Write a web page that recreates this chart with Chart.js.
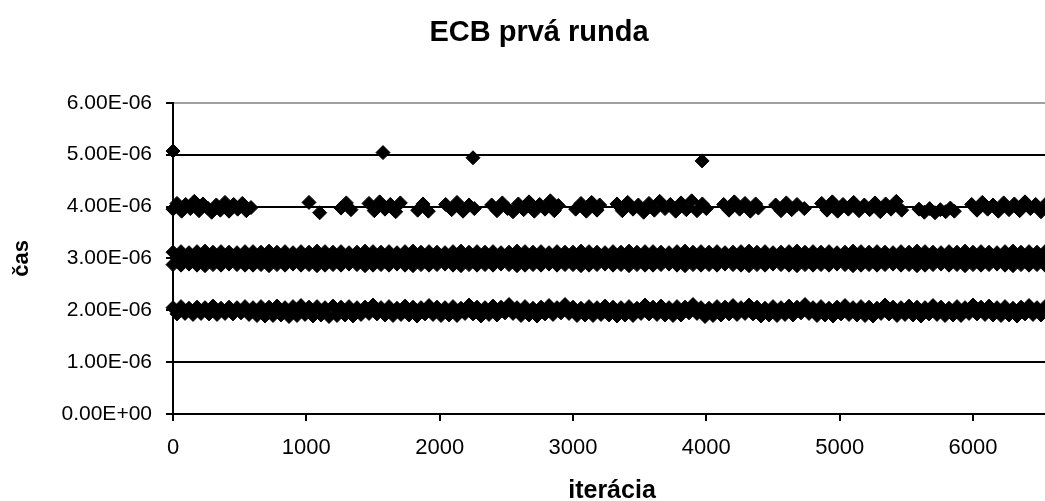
<!DOCTYPE html>
<html>
<head>
<meta charset="utf-8">
<script src="https://cdn.jsdelivr.net/npm/chart.js@4.4.1/dist/chart.umd.min.js"></script>
<style>
  html, body { margin: 0; padding: 0; overflow: hidden; background: #fff; }
</style>
</head>
<body>
<canvas id="myChart" width="1078" height="501"></canvas>
<script>
// times are in microseconds, the axis labels show them in seconds
const yTicks = [0, 1, 2, 3, 4, 5, 6];
const xTicks = [0, 1000, 2000, 3000, 4000, 5000, 6000];

const iterA = [0,60,120,180,240,300,360,420,480,540,
  600,660,720,780,840,900,960,1020,1080,1140,
  1200,1260,1320,1380,1440,1500,1560,1620,1680,1740,
  1800,1860,1920,1980,2040,2100,2160,2220,2280,2340,
  2400,2460,2520,2580,2640,2700,2760,2820,2880,2940,
  3000,3060,3120,3180,3240,3300,3360,3420,3480,3540,
  3600,3660,3720,3780,3840,3900,3960,4020,4080,4140,
  4200,4260,4320,4380,4440,4500,4560,4620,4680,4740,
  4800,4860,4920,4980,5040,5100,5160,5220,5280,5340,
  5400,5460,5520,5580,5640,5700,5760,5820,5880,5940,
  6000,6060,6120,6180,6240,6300,6360,6420,6480,6540];
const iterB = [30,90,150,210,270,330,390,450,510,570,
  630,690,750,810,870,930,990,1050,1110,1170,
  1230,1290,1350,1410,1470,1530,1590,1650,1710,1770,
  1830,1890,1950,2010,2070,2130,2190,2250,2310,2370,
  2430,2490,2550,2610,2670,2730,2790,2850,2910,2970,
  3030,3090,3150,3210,3270,3330,3390,3450,3510,3570,
  3630,3690,3750,3810,3870,3930,3990,4050,4110,4170,
  4230,4290,4350,4410,4470,4530,4590,4650,4710,4770,
  4830,4890,4950,5010,5070,5130,5190,5250,5310,5370,
  5430,5490,5550,5610,5670,5730,5790,5850,5910,5970,
  6030,6090,6150,6210,6270,6330,6390,6450,6510,6570];

// 3 µs band (on iterA, iterB, iterA)
const t3Upper = [3.12,3.13,3.11,3.13,3.14,3.12,3.13,3.12,3.11,3.13,
  3.13,3.12,3.14,3.12,3.13,3.11,3.13,3.12,3.14,3.13,
  3.12,3.13,3.11,3.12,3.14,3.13,3.12,3.13,3.11,3.13,
  3.14,3.12,3.13,3.12,3.11,3.13,3.14,3.12,3.13,3.12,
  3.13,3.11,3.12,3.14,3.13,3.12,3.13,3.11,3.13,3.12,
  3.12,3.14,3.13,3.12,3.11,3.13,3.12,3.14,3.12,3.13,
  3.13,3.12,3.11,3.13,3.14,3.12,3.13,3.12,3.13,3.11,
  3.12,3.13,3.14,3.12,3.13,3.11,3.12,3.13,3.14,3.12,
  3.13,3.12,3.13,3.11,3.12,3.14,3.13,3.12,3.13,3.12,
  3.11,3.13,3.12,3.14,3.13,3.12,3.11,3.13,3.12,3.14,
  3.12,3.13,3.12,3.11,3.13,3.14,3.12,3.13,3.12,3.13];
const t3Mid = [3.00,2.98,3.02,3.01,2.99,3.03,2.98,3.00,3.02,2.99,
  3.01,3.00,2.98,3.02,3.00,2.99,3.03,3.01,2.98,3.00,
  2.99,3.02,3.00,2.98,3.01,3.03,2.99,3.00,3.02,2.98,
  3.00,3.01,2.99,3.03,3.00,2.98,3.02,3.01,2.99,3.00,
  3.02,2.98,3.00,3.01,2.99,3.03,3.00,2.98,3.02,3.01,
  2.99,3.00,3.02,2.98,3.01,3.00,2.99,3.03,3.00,2.98,
  3.01,3.02,2.99,3.00,2.98,3.03,3.01,2.99,3.00,3.02,
  2.98,3.00,3.01,2.99,3.03,3.00,2.98,3.02,3.01,2.99,
  3.00,3.02,2.98,3.01,3.00,2.99,3.03,3.00,2.98,3.02,
  3.01,2.99,3.00,3.02,2.98,3.01,3.00,2.99,3.03,3.00,
  2.98,3.02,3.01,2.99,3.00,3.02,2.98,3.01,3.00,2.99];
const t3Lower = [2.88,2.87,2.89,2.87,2.86,2.88,2.87,2.89,2.88,2.87,
  2.87,2.88,2.86,2.88,2.87,2.89,2.87,2.88,2.86,2.87,
  2.88,2.87,2.89,2.88,2.86,2.87,2.88,2.87,2.89,2.87,
  2.86,2.88,2.87,2.88,2.89,2.87,2.86,2.88,2.87,2.88,
  2.87,2.89,2.88,2.86,2.87,2.88,2.87,2.89,2.87,2.88,
  2.88,2.86,2.87,2.88,2.89,2.87,2.88,2.86,2.88,2.87,
  2.87,2.88,2.89,2.87,2.86,2.88,2.87,2.88,2.87,2.89,
  2.88,2.87,2.86,2.88,2.87,2.89,2.88,2.87,2.86,2.88,
  2.87,2.88,2.87,2.89,2.88,2.86,2.87,2.88,2.87,2.88,
  2.89,2.87,2.88,2.86,2.87,2.88,2.89,2.87,2.88,2.86,
  2.88,2.87,2.88,2.89,2.87,2.86,2.88,2.87,2.88,2.87];

// 2 µs band (upper on iterA, lower on iterB)
const t2Upper = [2.05,2.07,2.04,2.06,2.05,2.08,2.04,2.06,2.05,2.07,2.05,
  2.07,2.06,2.08,2.05,2.07,2.09,2.06,2.07,2.05,2.08,2.06,2.07,2.05,
  2.06,2.10,2.05,2.07,2.04,2.08,2.06,2.05,2.09,2.06,
  2.05,2.07,2.04,2.10,2.06,2.05,2.08,2.06,2.11,2.05,
  2.07,2.04,2.06,2.09,2.05,2.11,2.06,2.04,2.07,2.05,
  2.08,2.06,2.05,2.07,2.04,2.10,2.06,2.08,2.05,2.07,
  2.06,2.11,2.05,2.04,2.07,2.06,2.09,2.05,2.10,2.06,
  2.04,2.07,2.05,2.08,2.06,2.11,2.05,2.07,2.04,2.06,
  2.09,2.05,2.07,2.06,2.04,2.10,2.06,2.05,2.08,2.06,
  2.05,2.09,2.06,2.04,2.07,2.05,2.10,2.06,2.08,2.05,
  2.07,2.04,2.06,2.09,2.05,2.07];
const t2Lower = [1.93,1.94,1.92,1.94,1.93,1.92,1.94,1.93,1.95,1.92,1.90,
  1.89,1.90,1.91,1.88,1.90,1.92,1.89,1.91,1.88,1.90,1.91,1.89,1.92,
  1.94,1.93,1.91,1.90,1.92,1.91,1.89,1.93,1.92,1.90,
  1.91,1.90,1.94,1.93,1.89,1.92,1.91,1.95,1.94,1.90,
  1.91,1.89,1.93,1.92,1.95,1.94,1.90,1.91,1.90,1.92,
  1.91,1.89,1.91,1.90,1.94,1.93,1.92,1.91,1.90,1.91,
  1.95,1.94,1.88,1.90,1.91,1.93,1.92,1.94,1.93,1.89,
  1.91,1.90,1.92,1.91,1.95,1.94,1.90,1.91,1.89,1.93,
  1.92,1.91,1.90,1.89,1.94,1.93,1.90,1.92,1.91,1.89,
  1.93,1.92,1.90,1.91,1.90,1.94,1.93,1.92,1.91,1.90,
  1.91,1.89,1.93,1.92,1.91,1.90];

// 4 µs band, with its gaps
const iter4 = [0,30,65,95,130,160,195,225,260,290,325,355,390,420,455,485,520,550,585,
  1020,1100,1260,1300,1335,
  1470,1510,1550,1590,1630,1670,1705,
  1835,1875,1915,
  2045,2090,2130,2175,2220,2260,
  2390,2430,2470,2510,2550,2590,2630,2670,2710,2750,2790,2830,2860,2890,
  3020,3060,3100,3140,3180,3200,
  3330,3370,3410,3450,3490,3530,3570,3610,3650,3690,3730,3770,3810,3850,3890,3930,3970,4000,
  4130,4170,4210,4250,4290,4330,4370,4390,
  4520,4560,4600,4640,4680,4735,
  4865,4905,4945,4985,5025,5065,5105,5145,5185,5225,5265,5305,5345,5385,5425,5465,
  5595,5635,5675,5715,5755,5795,5830,5860,
  5990,6030,6070,6110,6150,6190,6230,6270,6310,6350,6390,6430,6470,6510,6550,6580];
const t4 = [3.95,4.06,3.91,4.04,3.96,4.10,3.92,4.05,3.97,3.89,4.03,3.93,4.08,3.91,4.04,3.95,4.06,3.92,3.98,
  4.08,3.88,3.97,4.07,3.94,
  4.06,3.92,4.09,3.95,4.04,3.90,4.07,
  3.93,4.05,3.91,
  4.04,3.94,4.08,3.91,4.03,3.96,
  4.03,3.92,4.07,3.96,3.90,4.05,3.94,4.09,3.91,4.04,3.95,4.11,3.92,4.02,
  3.95,4.06,3.91,4.08,3.93,4.03,
  4.05,3.92,4.08,3.95,4.03,3.89,4.06,3.93,4.10,3.96,4.04,3.91,4.07,3.94,4.11,3.92,4.05,3.96,
  4.04,3.93,4.09,3.95,4.06,3.91,4.05,3.97,
  4.03,3.92,4.07,3.94,4.04,3.96,
  4.06,3.93,4.09,3.91,4.04,3.95,4.08,3.92,4.03,3.94,4.07,3.90,4.05,3.95,4.10,3.93,
  3.95,3.89,3.96,3.88,3.94,3.90,3.97,3.91,
  4.04,3.93,4.08,3.95,4.03,3.91,4.07,3.94,4.05,3.92,4.09,3.96,4.04,3.90,4.06,3.95];

// single slow runs near 5 µs
const iterSlow = [0, 1575, 2250, 3968];
const tSlow = [5.07, 5.04, 4.94, 4.88];

function pairs(xs, ys) {
  return xs.map((x, i) => ({ x: x, y: ys[i] }));
}

function sciLabel(v) {
  const s = (v * 1e-6).toExponential(2);
  const parts = s.split('e');
  const n = parseInt(parts[1], 10);
  return parts[0] + 'E' + (n < 0 ? '-' : '+') + String(Math.abs(n)).padStart(2, '0');
}

const font = 'Arial, "Liberation Sans", sans-serif';
const marker = {
  backgroundColor: '#000',
  borderColor: '#000',
  pointStyle: 'rectRot',
  pointRadius: 7,
  pointBorderWidth: 1,
  clip: false
};

const ctx = document.getElementById('myChart').getContext('2d');
const myChart = new Chart(ctx, {
  type: 'scatter',
  data: {
    datasets: [
      Object.assign({ label: '3a', data: pairs(iterA, t3Upper) }, marker),
      Object.assign({ label: '3b', data: pairs(iterB, t3Mid) }, marker),
      Object.assign({ label: '3c', data: pairs(iterA, t3Lower) }, marker),
      Object.assign({ label: '2a', data: pairs(iterA, t2Upper) }, marker),
      Object.assign({ label: '2b', data: pairs(iterB, t2Lower) }, marker),
      Object.assign({ label: '4', data: pairs(iter4, t4) }, marker),
      Object.assign({ label: '5', data: pairs(iterSlow, tSlow) }, marker)
    ]
  },
  options: {
    responsive: false,
    animation: false,
    layout: { padding: { left: 27, right: 27, top: 0, bottom: 0 } },
    plugins: {
      legend: { display: false },
      tooltip: { enabled: false },
      title: {
        display: true,
        text: 'ECB prvá runda',
        color: '#000',
        font: { family: font, size: 29, weight: 'bold' },
        padding: { top: 16, bottom: 52 }
      }
    },
    scales: {
      x: {
        type: 'linear',
        min: 0,
        max: 6585,
        afterFit: s => { s.height = 87; },
        afterBuildTicks: s => { s.ticks = xTicks.map(v => ({ value: v })); },
        border: { display: true, color: '#000', width: 2 },
        grid: { drawOnChartArea: false, drawTicks: true, tickLength: 7, tickColor: '#000', lineWidth: 2 },
        ticks: { color: '#000', font: { family: font, size: 22 }, padding: 14, maxRotation: 0, callback: v => String(v) },
        title: {
          display: true,
          text: 'iterácia',
          color: '#000',
          font: { family: font, size: 25, weight: 'bold' },
          padding: { top: 15, bottom: -5 }
        }
      },
      y: {
        min: 0,
        max: 6,
        afterFit: s => { s.width = 146; },
        afterBuildTicks: s => { s.ticks = yTicks.map(v => ({ value: v })); },
        border: { display: true, color: '#000', width: 2 },
        grid: {
          color: c => (c.tick && c.tick.value === 6 ? '#a0a0a0' : '#000'),
          tickColor: '#000',
          lineWidth: 2,
          tickLength: 7
        },
        ticks: { color: '#000', font: { family: font, size: 21 }, padding: 14, callback: v => sciLabel(v) },
        title: {
          display: true,
          text: 'čas',
          color: '#000',
          font: { family: font, size: 22, weight: 'bold' },
          padding: { top: -18, bottom: 0 }
        }
      }
    }
  }
});
</script>
</body>
</html>
